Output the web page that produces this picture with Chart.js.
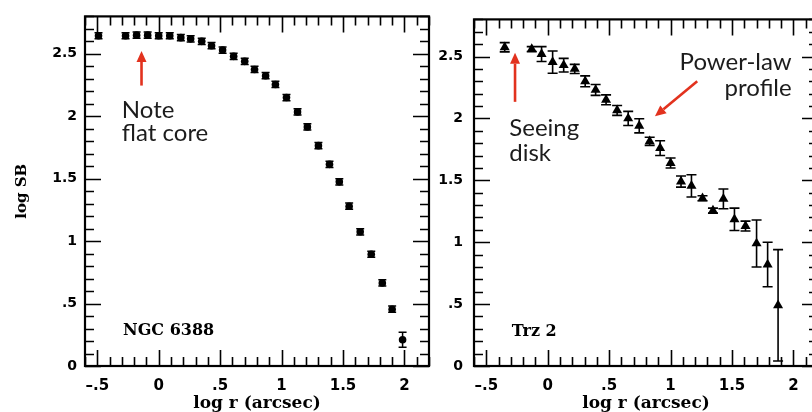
<!DOCTYPE html>
<html><head><meta charset="utf-8">
<script src="https://cdn.jsdelivr.net/npm/chart.js@4.4.0/dist/chart.umd.min.js"></script>
<style>
html,body{margin:0;padding:0;background:#fff;width:812px;height:412px;overflow:hidden;position:relative}
canvas{position:absolute;top:0}
#c1{left:0}
#c2{left:435px}
</style></head><body>
<canvas id="c1" width="435" height="412"></canvas>
<canvas id="c2" width="400" height="412"></canvas>
<script>
// ---- data ----
const ngcLogR  = [-0.49, -0.27, -0.18, -0.09, 0.00, 0.09, 0.18, 0.26, 0.35, 0.43, 0.52, 0.61, 0.70, 0.78, 0.87, 0.95, 1.04, 1.13, 1.21, 1.30, 1.39, 1.47, 1.55, 1.64, 1.73, 1.82, 1.90, 1.985];
const ngcLogSB = [2.645, 2.645, 2.65, 2.65, 2.645, 2.645, 2.63, 2.62, 2.60, 2.565, 2.53, 2.48, 2.44, 2.375, 2.325, 2.255, 2.15, 2.035, 1.915, 1.765, 1.615, 1.475, 1.28, 1.075, 0.895, 0.665, 0.455, 0.21];
const ngcErr   = [0.025, 0.025, 0.025, 0.025, 0.025, 0.025, 0.025, 0.025, 0.025, 0.025, 0.025, 0.025, 0.025, 0.025, 0.025, 0.025, 0.025, 0.025, 0.025, 0.025, 0.025, 0.025, 0.025, 0.025, 0.025, 0.025, 0.025, 0.06];

const trzLogR  = [-0.35, -0.13, -0.05, 0.04, 0.13, 0.22, 0.305, 0.39, 0.475, 0.565, 0.655, 0.745, 0.83, 0.915, 1.0, 1.085, 1.17, 1.26, 1.345, 1.43, 1.52, 1.61, 1.70, 1.79, 1.875];
const trzLogSB = [2.575, 2.56, 2.52, 2.455, 2.43, 2.40, 2.30, 2.23, 2.15, 2.065, 2.0, 1.94, 1.815, 1.76, 1.64, 1.49, 1.455, 1.355, 1.255, 1.35, 1.185, 1.13, 0.99, 0.82, 0.49];
const trzErr   = [0.037, 0.02, 0.06, 0.09, 0.055, 0.037, 0.044, 0.044, 0.04, 0.04, 0.057, 0.057, 0.033, 0.06, 0.04, 0.045, 0.09, 0.02, 0.02, 0.08, 0.09, 0.04, 0.19, 0.18, 0.45];

const xTickValues = [-0.5, 0, 0.5, 1, 1.5, 2];
const xTickLabels = ['\u2013.5', '0', '.5', '1', '1.5', '2'];
const yTickValues = [0, 0.5, 1, 1.5, 2, 2.5];
const yTickLabels = ['0', '.5', '1', '1.5', '2', '2.5'];
const xMinorTicks = [-0.6,-0.5,-0.4,-0.3,-0.2,-0.1,0,0.1,0.2,0.3,0.4,0.5,0.6,0.7,0.8,0.9,1,1.1,1.2,1.3,1.4,1.5,1.6,1.7,1.8,1.9,2,2.1,2.2];
const yMinorTicks = [0,0.1,0.2,0.3,0.4,0.5,0.6,0.7,0.8,0.9,1,1.1,1.2,1.3,1.4,1.5,1.6,1.7,1.8,1.9,2,2.1,2.2,2.3,2.4,2.5,2.6,2.7,2.8];

const xTitle = 'log r (arcsec)';
const yTitle = 'log SB';

// ---- plugins ----
const isMajor = v => Math.abs(v * 2 - Math.round(v * 2)) < 1e-6;

const frameTicks = {
  id: 'frameTicks',
  afterDraw(chart) {
    const {ctx, chartArea: a, scales: {x, y}} = chart;
    ctx.save();
    ctx.strokeStyle = '#000';
    ctx.lineWidth = 1.6;
    ctx.beginPath();
    xMinorTicks.forEach(v => {
      const px = Math.round(x.getPixelForValue(v)) + 0.5;
      const L = isMajor(v) ? 16 : 9;
      ctx.moveTo(px, a.bottom); ctx.lineTo(px, a.bottom - L);
      ctx.moveTo(px, a.top); ctx.lineTo(px, a.top + L);
    });
    yMinorTicks.forEach(v => {
      const py = Math.round(y.getPixelForValue(v)) + 0.5;
      const L = isMajor(v) ? 16 : 9;
      ctx.moveTo(a.left, py); ctx.lineTo(a.left + L, py);
      ctx.moveTo(a.right, py); ctx.lineTo(a.right - L, py);
    });
    ctx.stroke();
    ctx.lineWidth = 2.2;
    ctx.strokeRect(a.left, a.top, a.right - a.left, a.bottom - a.top);
    ctx.restore();
  }
};

const errorBars = {
  id: 'errorBars',
  afterDatasetsDraw(chart) {
    const {ctx, scales: {x, y}} = chart;
    ctx.save();
    ctx.strokeStyle = '#000';
    chart.data.datasets.forEach(ds => {
      if (!ds.errors) return;
      const cw = ds.capWidth / 2;
      ctx.lineWidth = ds.errLineWidth;
      ctx.beginPath();
      ds.data.forEach((p, i) => {
        const px = x.getPixelForValue(p.x);
        const top = y.getPixelForValue(p.y + ds.errors[i]);
        const bot = y.getPixelForValue(p.y - ds.errors[i]);
        ctx.moveTo(px, top); ctx.lineTo(px, bot);
        ctx.moveTo(px - cw, top); ctx.lineTo(px + cw, top);
        ctx.moveTo(px - cw, bot); ctx.lineTo(px + cw, bot);
      });
      ctx.stroke();
    });
    ctx.restore();
  }
};

const notes = {
  id: 'notes',
  afterDraw(chart, args, opts) {
    const {ctx, scales: {x, y}} = chart;
    ctx.save();
    (opts.labels || []).forEach(t => {
      ctx.font = t.font;
      ctx.fillStyle = t.color;
      ctx.textAlign = t.align || 'left';
      ctx.textBaseline = 'alphabetic';
      const px = x.getPixelForValue(t.x);
      const py = y.getPixelForValue(t.y);
      t.lines.forEach((ln, k) => ctx.fillText(ln, px, py + k * (t.lineHeight || 0)));
    });
    (opts.arrows || []).forEach(a => {
      const x1 = x.getPixelForValue(a.x1), y1 = y.getPixelForValue(a.y1);
      const x2 = x.getPixelForValue(a.x2), y2 = y.getPixelForValue(a.y2);
      const ang = Math.atan2(y2 - y1, x2 - x1);
      const hl = 11, hw = 5;
      const bx = x2 - hl * Math.cos(ang), by = y2 - hl * Math.sin(ang);
      ctx.strokeStyle = a.color; ctx.fillStyle = a.color;
      ctx.lineWidth = 2.6;
      ctx.beginPath(); ctx.moveTo(x1, y1); ctx.lineTo(bx, by); ctx.stroke();
      ctx.beginPath();
      ctx.moveTo(x2, y2);
      ctx.lineTo(bx + hw * Math.sin(ang), by - hw * Math.cos(ang));
      ctx.lineTo(bx - hw * Math.sin(ang), by + hw * Math.cos(ang));
      ctx.closePath(); ctx.fill();
    });
    ctx.restore();
  }
};

const RED = '#e2321e';
const TXT = '#1c1c1c';
const noteFont = '24px Lato';
const labelFont = 'bold 16px "DejaVu Serif"';

function makeChart(id, xs, ys, errs, style, opt) {
  const pts = xs.map((v, i) => ({x: v, y: ys[i]}));
  return new Chart(document.getElementById(id), {
    type: 'scatter',
    data: {datasets: [{
      data: pts,
      errors: errs,
      capWidth: style.cap,
      errLineWidth: style.errLw,
      pointStyle: style.shape,
      pointRadius: style.r,
      backgroundColor: '#000',
      borderColor: '#000',
      borderWidth: 0,
      showLine: false
    }]},
    options: {
      responsive: false,
      animation: false,
      devicePixelRatio: 1,
      layout: {padding: opt.padding},
      plugins: {
        legend: {display: false},
        tooltip: {enabled: false},
        notes: {labels: opt.labels, arrows: opt.arrows}
      },
      scales: {
        x: {
          type: 'linear', min: -0.6, max: 2.2,
          afterBuildTicks: s => { s.ticks = xTickValues.map(v => ({value: v})); },
          afterFit: s => { s.height = 46; },
          grid: {display: false, drawTicks: false},
          border: {display: false},
          ticks: {
            autoSkip: false, maxRotation: 0, padding: 11, color: '#000',
            font: {family: 'DejaVu Sans', weight: 'bold', size: 15},
            callback: v => xTickLabels[xTickValues.indexOf(v)]
          },
          title: {display: true, text: xTitle, color: '#000',
            font: {family: 'DejaVu Serif', weight: 'bold', size: 17},
            padding: {top: 0, bottom: -2}}
        },
        y: {
          type: 'linear', min: 0, max: 2.8,
          afterBuildTicks: s => { s.ticks = yTickValues.map(v => ({value: v})); },
          afterFit: s => { s.width = opt.yWidth; },
          grid: {display: false, drawTicks: false},
          border: {display: false},
          ticks: {
            autoSkip: false, padding: opt.yPad, color: '#000',
            font: {family: 'DejaVu Sans', weight: 'bold', size: 14},
            callback: v => yTickLabels[yTickValues.indexOf(v)]
          },
          title: {display: opt.yTitle, text: yTitle, color: '#000',
            font: {family: 'DejaVu Serif', weight: 'bold', size: 15},
            padding: {top: 13, bottom: 0}}
        }
      }
    },
    plugins: [errorBars, frameTicks, notes]
  });
}

makeChart('c1', ngcLogR, ngcLogSB, ngcErr,
  {shape: 'circle', r: 3.8, cap: 8, errLw: 1.5},
  {
    padding: {top: 12, right: 6, left: 0, bottom: 0},
    yWidth: 85, yPad: 8, yTitle: true,
    labels: [
      {x: -0.30, y: 1.985, lines: ['Note', 'flat core'], lineHeight: 23, font: noteFont, color: TXT},
      {x: -0.29, y: 0.245, lines: ['NGC 6388'], font: labelFont, color: '#000'}
    ],
    arrows: [{x1: -0.14, y1: 2.246, x2: -0.14, y2: 2.523, color: RED}]
  });

makeChart('c2', trzLogR, trzLogSB, trzErr,
  {shape: 'triangle', r: 5.8, cap: 10, errLw: 1.6},
  {
    padding: {top: 13, right: 17, left: 0, bottom: 0},
    yWidth: 39, yPad: 11, yTitle: false,
    labels: [
      {x: -0.313, y: 1.858, lines: ['Seeing', 'disk'], lineHeight: 25, font: noteFont, color: TXT},
      {x: 1.986, y: 2.388, lines: ['Power-law', 'profile'], lineHeight: 25.5, font: noteFont, color: TXT, align: 'right'},
      {x: -0.293, y: 0.246, lines: ['Trz 2'], font: labelFont, color: '#000'}
    ],
    arrows: [
      {x1: -0.266, y1: 2.134, x2: -0.266, y2: 2.53, color: RED},
      {x1: 1.217, y1: 2.30, x2: 0.873, y2: 2.017, color: RED}
    ]
  });
</script>
</body></html>
